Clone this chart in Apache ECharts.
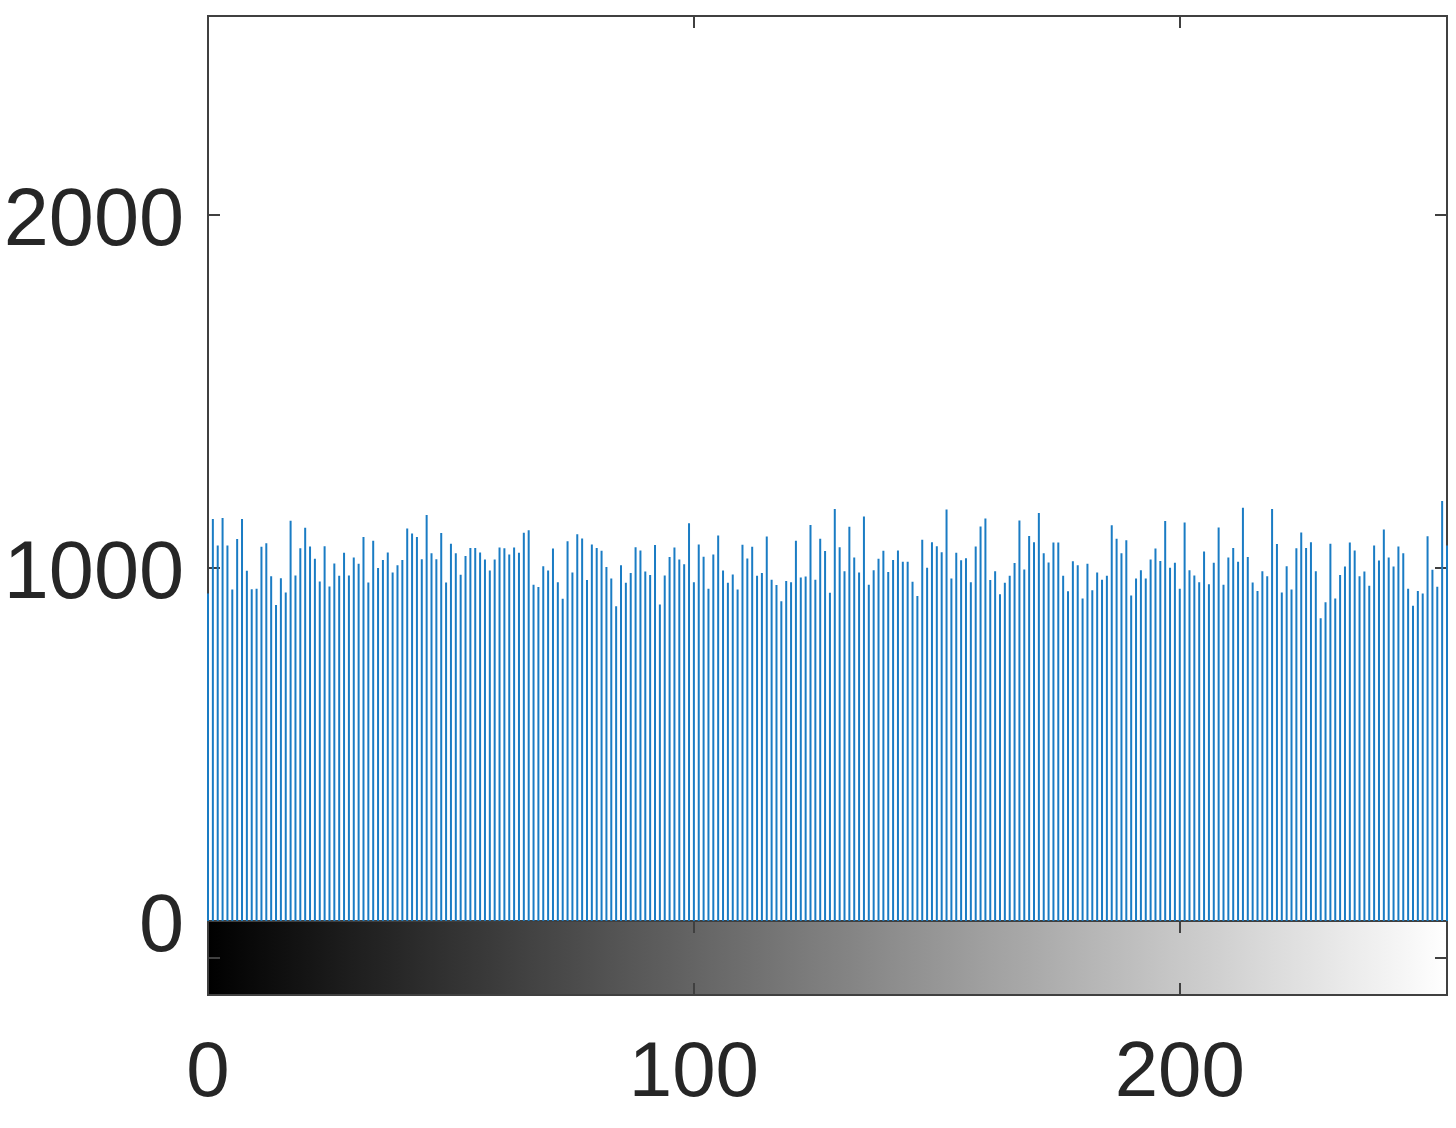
<!DOCTYPE html>
<html>
<head>
<meta charset="utf-8">
<script src="https://cdn.jsdelivr.net/npm/echarts@6/dist/echarts.min.js"></script>
<style>
html,body{margin:0;padding:0;background:#fff;}
#chart{width:1456px;height:1128px;}
</style>
</head>
<body>
<div id="chart"></div>
<script>
// Intensity levels 0..255
const bins = Array.from({length: 256}, (_, i) => i);
// Pixel counts per intensity level
const counts = [
928,1139,1064,1142,1064,939,1082,1139,992,940,
941,1060,1070,977,895,971,931,1134,979,1056,
1114,1061,1026,962,1062,948,1013,978,1043,979,
1030,1012,1088,959,1077,1000,1023,1044,987,1008,
1023,1112,1098,1088,1025,1150,1042,1025,1099,959,
1069,1042,981,1034,1057,1057,1044,1024,993,1024,
1058,1056,1038,1058,1043,1100,1107,953,946,1005,
993,1055,960,913,1076,987,1096,1084,966,1067,
1057,1049,1003,970,892,1008,958,986,1059,1050,
990,980,1065,897,979,1031,1058,1024,1011,1127,
960,1067,1032,941,1038,1092,993,958,982,939,
1066,1027,1060,978,986,1089,967,952,906,963,
960,1077,973,976,1122,967,1083,1048,930,1167,
1059,991,1117,1030,987,1146,953,994,1026,1049,
989,1023,1050,1018,1018,961,921,1080,1001,1073,
1062,1045,1166,970,1043,1022,1028,960,1061,1118,
1140,966,991,926,958,978,1014,1135,996,1091,
1073,1156,1042,1016,1072,1072,978,934,1019,1008,
914,1012,937,987,967,978,1121,1083,1042,1079,
922,970,994,970,1024,1055,1020,1133,1001,1015,
941,1129,994,979,960,1047,954,1015,1115,953,
1030,1057,1018,1171,1031,959,935,991,977,1167,
1068,931,1005,939,1056,1101,1057,1073,991,858,
903,1069,914,980,1004,1072,1050,977,990,950,
1064,1021,1109,1030,1004,1061,1042,941,893,935,
928,1090,995,947,1190,1064
];
const yTicks = [0, 1000, 2000];
const xTicks = [0, 100, 200];
const yMax = 2564;
const xMax = 255;

const textColor = '#262626';
const lineColor = '#404040';
const font = 'Liberation Sans, Arial, Helvetica, sans-serif';

const chart = echarts.init(document.getElementById('chart'), null, {renderer: 'canvas'});
const tickStyle = {show: true, inside: true, length: 12, lineStyle: {color: lineColor, width: 2}};
const hiddenLine = {show: false, onZero: false};

chart.setOption({
  animation: false,
  backgroundColor: '#fff',
  grid: [
    {left: 208, right: 9, top: 16, height: 905, show: true, borderColor: lineColor, borderWidth: 2, backgroundColor: '#fff'},
    {left: 208, right: 9, top: 921, height: 74, show: true, borderColor: lineColor, borderWidth: 2,
     backgroundColor: new echarts.graphic.LinearGradient(0, 0, 1, 0, [{offset: 0, color: '#000'}, {offset: 1, color: '#fff'}])}
  ],
  xAxis: [
    {gridIndex: 0, type: 'value', min: 0, max: xMax, interval: 100, position: 'top',
     axisLine: hiddenLine, axisLabel: {show: false}, splitLine: {show: false}, axisTick: tickStyle},
    {gridIndex: 1, type: 'value', min: 0, max: xMax, interval: 100, position: 'bottom',
     axisLine: hiddenLine, splitLine: {show: false}, axisTick: tickStyle,
     axisLabel: {show: true, fontSize: 78, color: textColor, fontFamily: font, margin: 40,
       formatter: v => xTicks.includes(v) ? String(v) : ''}},
    {gridIndex: 1, type: 'value', min: 0, max: xMax, interval: 100, position: 'top',
     axisLine: hiddenLine, axisLabel: {show: false}, splitLine: {show: false}, axisTick: tickStyle}
  ],
  yAxis: [
    {gridIndex: 0, type: 'value', min: 0, max: yMax, interval: 1000, position: 'left',
     axisLine: hiddenLine, splitLine: {show: false}, axisTick: tickStyle,
     axisLabel: {show: true, fontSize: 81, color: textColor, fontFamily: font, margin: 24,
       verticalAlign: 'top', lineHeight: 16,
       formatter: v => yTicks.includes(v) ? String(v) : ''}},
    {gridIndex: 0, type: 'value', min: 0, max: yMax, interval: 1000, position: 'right',
     axisLine: hiddenLine, splitLine: {show: false}, axisTick: tickStyle, axisLabel: {show: false}},
    {gridIndex: 1, type: 'value', min: 0, max: 1, interval: 0.5, position: 'left',
     axisLine: hiddenLine, splitLine: {show: false}, axisTick: tickStyle, axisLabel: {show: false}},
    {gridIndex: 1, type: 'value', min: 0, max: 1, interval: 0.5, position: 'right',
     axisLine: hiddenLine, splitLine: {show: false}, axisTick: tickStyle, axisLabel: {show: false}}
  ],
  series: [
    {type: 'bar', xAxisIndex: 0, yAxisIndex: 0, barWidth: 2, clip: true, silent: true,
     itemStyle: {color: '#1a7cc4'},
     data: bins.map((b, i) => [b, counts[i]])}
  ]
});
</script>
</body>
</html>
